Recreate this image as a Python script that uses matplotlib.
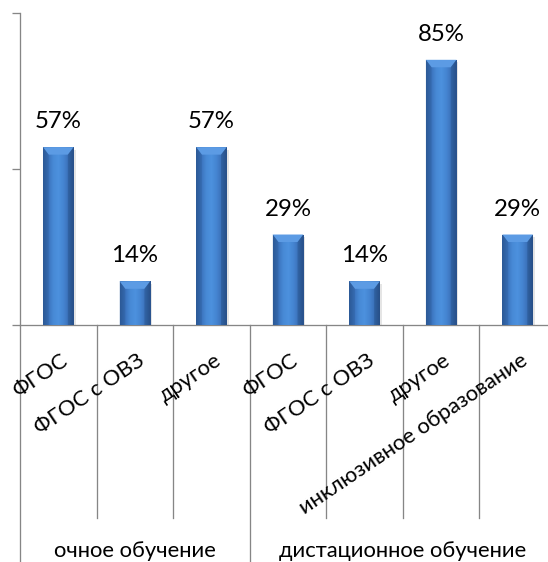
import matplotlib
matplotlib.use("Agg")
import matplotlib.pyplot as plt
import numpy as np
from matplotlib.patches import Polygon
from matplotlib.transforms import blended_transform_factory

plt.rcParams['font.family'] = ['Lato', 'Open Sans', 'DejaVu Sans']

# data
categories = ["ФГОС", "ФГОС с ОВЗ", "другое",
              "ФГОС", "ФГОС с ОВЗ", "другое", "инклюзивное образование"]
groups = ["очное обучение", "дистационное обучение"]
group_sizes = [3, 4]
values = [57, 14, 57, 29, 14, 85, 29]

W, H, DPI = 548, 562, 72
fig = plt.figure(figsize=(W / DPI, H / DPI), dpi=DPI)
fig.patch.set_facecolor("white")

# axes spans 7 categories; right end runs slightly past the canvas
left_px, right_px, top_px, base_px = 20, 556, 13, 325
ax = fig.add_axes([left_px / W, (H - base_px) / H,
                   (right_px - left_px) / W, (base_px - top_px) / H])
n = len(categories)
ax.set_xlim(-0.5, n - 0.5)
ax.set_ylim(0, 100)
ax.set_facecolor("none")

grey = "#868686"
for s in ["top", "right"]:
    ax.spines[s].set_visible(False)
ax.spines["left"].set_color(grey)
ax.spines["bottom"].set_color(grey)
ax.spines["left"].set_linewidth(1.3)
ax.spines["bottom"].set_linewidth(1.3)
ax.set_yticks([0, 50, 100])
ax.set_yticklabels([])
ax.tick_params(axis="y", length=8, width=1.3, color=grey, direction="out")
ax.set_xticks([])

x = np.arange(n)
bar_w = 0.40
bars = ax.bar(x, values, width=bar_w, color="#3C78C3", zorder=3,
              edgecolor="none")

# horizontal shading and bevelled top on each bar
grad_cols = np.array([
    [0.18, 0.35, 0.59],
    [0.23, 0.45, 0.74],
    [0.28, 0.54, 0.84],
    [0.30, 0.57, 0.87],
    [0.27, 0.52, 0.82],
    [0.23, 0.44, 0.72],
    [0.17, 0.33, 0.56],
])
pos = np.linspace(0, 1, len(grad_cols))
t = np.linspace(0, 1, 64)
grad = np.stack([np.interp(t, pos, grad_cols[:, k]) for k in range(3)], axis=-1)[None, :, :]
for b in bars:
    x0, w, h = b.get_x(), b.get_width(), b.get_height()
    # soft shadow
    ax.add_patch(plt.Rectangle((x0 + 0.015, -0.8), w + 0.01, h, color="#000000",
                               alpha=0.10, zorder=2, lw=0))
    im = ax.imshow(grad, extent=(x0, x0 + w, 0, h), aspect="auto", zorder=3.5,
                   interpolation="bilinear")
    im.set_clip_path(b)
    bw, bh = 0.075, 2.4
    ax.add_patch(Polygon([(x0, h), (x0 + w, h), (x0 + w - bw, h - bh),
                          (x0 + bw, h - bh)], closed=True,
                         color="#5C9BE4", lw=0, zorder=4))
    ax.add_patch(Polygon([(x0, h), (x0 + bw, h - bh), (x0 + bw, 0), (x0, 0)],
                         closed=True, color="#2A5A98", alpha=0.35, lw=0, zorder=4))
    ax.add_patch(Polygon([(x0 + w, h), (x0 + w - bw, h - bh), (x0 + w - bw, 0),
                          (x0 + w, 0)], closed=True, color="#1E4679", alpha=0.35,
                         lw=0, zorder=4))

# value labels
for xi, v in zip(x, values):
    ax.annotate(f"{v}%", xy=(xi, v), xytext=(0, 19), textcoords="offset points",
                ha="center", va="baseline", fontsize=24, color="black",
                zorder=5)

# rotated category labels
for xi, lab in zip(x, categories):
    ax.annotate(lab, xy=(xi, 0), xytext=(2, -25), textcoords="offset points",
                ha="right", va="top", rotation=34, rotation_mode="anchor",
                fontsize=22, color="black", annotation_clip=False)

# separators between categories and groups
tr = blended_transform_factory(ax.transData, fig.transFigure)
bounds = np.cumsum([0] + group_sizes)
group_edges = set(bounds - 0.5)
for b in np.arange(-0.5, n, 1.0):
    if b in group_edges:
        y_end = 0.0
    else:
        y_end = (H - 518) / H
    ax.plot([b, b], [(H - base_px) / H, y_end], color=grey, lw=1.3,
            transform=tr, clip_on=False, zorder=1)

# group labels
for g, s0, s1 in zip(groups, bounds[:-1], bounds[1:]):
    ax.text((s0 + s1 - 1) / 2, (H - 557) / H, g, transform=tr, ha="center",
            va="baseline", fontsize=22, color="black")

fig.savefig("out.png", dpi=DPI, facecolor="white")
